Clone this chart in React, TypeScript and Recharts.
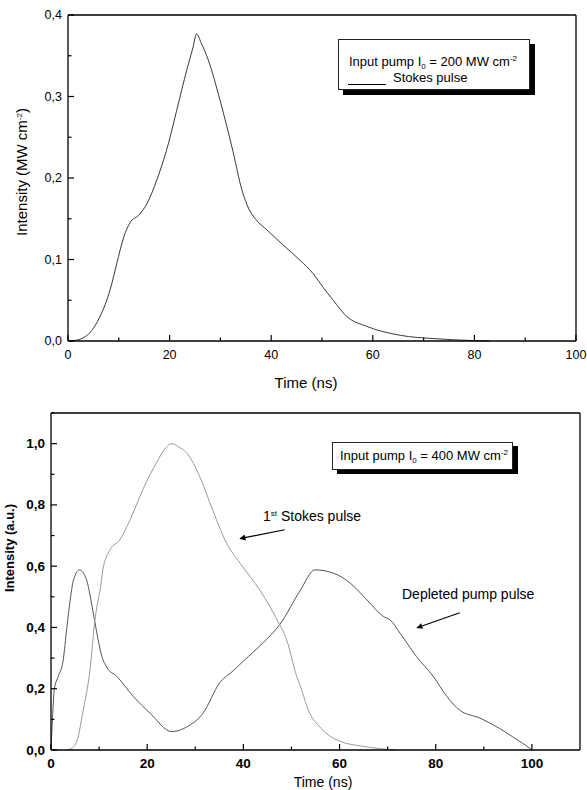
import React from 'react';
import { LineChart, Line, XAxis, YAxis, ReferenceLine } from 'recharts';

// ---------- Top chart data (Input pump 200 MW cm-2, Stokes pulse) ----------
const topTime = [0, 1.7, 3, 4.3, 6.3, 8.3, 9.6, 11, 12.2, 14, 15.5, 17.5, 19.4, 21.4, 23.4, 24.6, 25.3, 26.2, 27.6, 29.9, 32.5, 34.2, 35.6, 37, 39.2, 42.3, 45.7, 48.2, 50.2, 52.2, 54.9, 58.8, 65.4, 71.9, 80, 83];
const topStokes = [0, 0.001, 0.004, 0.01, 0.03, 0.063, 0.095, 0.128, 0.145, 0.155, 0.168, 0.198, 0.234, 0.283, 0.333, 0.36, 0.377, 0.366, 0.345, 0.296, 0.232, 0.186, 0.162, 0.149, 0.136, 0.118, 0.099, 0.083, 0.066, 0.05, 0.03, 0.018, 0.007, 0.003, 0.0005, 0];

// ---------- Bottom chart data (Input pump 400 MW cm-2) ----------
const stokesTime = [3.3, 4.5, 5.4, 6.7, 8.1, 9.1, 9.8, 10.2, 10.8, 12.3, 14.3, 16.4, 19.1, 22, 23.8, 25.1, 26.5, 28.2, 31, 33.7, 36.5, 39.3, 43.5, 47, 49, 51.1, 51.8, 53.8, 55.9, 59.4, 65.7, 70, 72];
const stokesValue = [0, 0.008, 0.03, 0.13, 0.26, 0.42, 0.49, 0.52, 0.59, 0.654, 0.686, 0.75, 0.85, 0.94, 0.985, 1.0, 0.99, 0.97, 0.89, 0.78, 0.675, 0.61, 0.52, 0.425, 0.36, 0.24, 0.21, 0.12, 0.075, 0.033, 0.01, 0.002, 0];

const pumpTime = [0, 0.3, 0.7, 1.5, 2.5, 3.3, 4, 4.6, 5.9, 7.4, 8.3, 9.1, 9.8, 10.5, 11.6, 13.7, 17.1, 20.6, 25.1, 28.2, 31.6, 35.1, 38, 40, 44.1, 47.6, 51.8, 54.9, 58.6, 62.2, 65.7, 69.1, 70.5, 72.6, 76, 79.5, 82.3, 85, 89.2, 93.3, 96, 99.6, 100];
const pumpValue = [0, 0.1, 0.2, 0.24, 0.29, 0.4, 0.49, 0.55, 0.588, 0.555, 0.49, 0.42, 0.36, 0.31, 0.27, 0.24, 0.175, 0.12, 0.06, 0.075, 0.12, 0.22, 0.26, 0.29, 0.35, 0.41, 0.52, 0.588, 0.578, 0.545, 0.49, 0.436, 0.425, 0.381, 0.305, 0.24, 0.175, 0.13, 0.104, 0.07, 0.043, 0.005, 0];

// ---------- Ticks ----------
const topXTicks = [0, 10, 20, 30, 40, 50, 60, 70, 80, 90, 100];
const topYTicks = [0, 0.05, 0.1, 0.15, 0.2, 0.25, 0.3, 0.35, 0.4];
const botXTicks = [0, 10, 20, 30, 40, 50, 60, 70, 80, 90, 100];
const botYTicks = [0, 0.1, 0.2, 0.3, 0.4, 0.5, 0.6, 0.7, 0.8, 0.9, 1.0, 1.1];

// ---------- Annotation arrows (data coordinates) ----------
const stokesArrow = [{ x: 48.6, y: 0.719 }, { x: 39.3, y: 0.69 }];
const pumpArrow = [{ x: 85.0, y: 0.448 }, { x: 76.1, y: 0.399 }];

const topData = topTime.map((t, i) => ({ t, v: topStokes[i] }));
const stokesData = stokesTime.map((t, i) => ({ t, v: stokesValue[i] }));
const pumpData = pumpTime.map((t, i) => ({ t, v: pumpValue[i] }));

const FONT = '"Liberation Sans", Arial, Helvetica, sans-serif';

type Side = 'bottom' | 'left' | 'top' | 'right';

function makeTick(
  side: Side,
  majorEvery: number,
  labelEvery: number | null,
  fmt: (v: number) => string,
  fontSize: number,
  fontWeight: string,
  gap: number,
) {
  return (props: any) => {
    const { x, y, payload } = props;
    const v = Number(payload.value);
    const isOn = (step: number) => Math.abs(v / step - Math.round(v / step)) < 1e-6;
    const major = isOn(majorEvery);
    const L = major ? 6 : 3.5;
    let line: any;
    let label: any = null;
    const showLabel = labelEvery !== null && isOn(labelEvery);
    if (side === 'bottom') {
      line = <line x1={x} y1={y} x2={x} y2={y - L} stroke="#000" strokeWidth={1.2} />;
      if (showLabel)
        label = (
          <text x={x} y={y + gap} textAnchor="middle" dominantBaseline="central" fontSize={fontSize} fontWeight={fontWeight} fontFamily={FONT} fill="#000">
            {fmt(v)}
          </text>
        );
    } else if (side === 'left') {
      line = <line x1={x} y1={y} x2={x + L} y2={y} stroke="#000" strokeWidth={1.2} />;
      if (showLabel)
        label = (
          <text x={x - gap} y={y} textAnchor="end" dominantBaseline="central" fontSize={fontSize} fontWeight={fontWeight} fontFamily={FONT} fill="#000">
            {fmt(v)}
          </text>
        );
    } else if (side === 'top') {
      line = <line x1={x} y1={y} x2={x} y2={y + L} stroke="#000" strokeWidth={1.2} />;
    } else {
      line = <line x1={x} y1={y} x2={x - L} y2={y} stroke="#000" strokeWidth={1.2} />;
    }
    return (
      <g>
        {line}
        {label}
      </g>
    );
  };
}

const fmtInt = (v: number) => String(Math.round(v));
const fmtDec = (v: number) => v.toFixed(1).replace('.', ',');

const axisLine = { stroke: '#000', strokeWidth: 1.3 };

const abs = (left: number, top: number, extra: React.CSSProperties = {}): React.CSSProperties => ({
  position: 'absolute',
  left,
  top,
  whiteSpace: 'nowrap',
  ...extra,
});

const Sub = ({ children }: { children: React.ReactNode }) => (
  <span style={{ fontSize: 8, position: 'relative', top: 3 }}>{children}</span>
);
const Sup = ({ children }: { children: React.ReactNode }) => (
  <span style={{ fontSize: 8, position: 'relative', top: -5 }}>{children}</span>
);

export default function App() {
  return (
    <div style={{ position: 'absolute', left: 0, top: 0, width: 587, height: 790, background: '#fff', fontFamily: FONT, color: '#000' }}>
      <svg width={0} height={0} style={{ position: 'absolute' }}>
        <defs>
          <marker id="arrowHead" viewBox="0 0 10 10" refX="9" refY="5" markerWidth="9" markerHeight="6" orient="auto" markerUnits="userSpaceOnUse">
            <path d="M0,0 L10,5 L0,10 z" fill="#000" />
          </marker>
        </defs>
      </svg>

      {/* ---------------- Top chart ---------------- */}
      <div style={{ position: 'absolute', left: 0, top: 0 }}>
        <LineChart width={587} height={400} margin={{ top: 15, right: 11, bottom: 0, left: 0 }}>
          <XAxis
            dataKey="t"
            type="number"
            domain={[0, 100]}
            ticks={topXTicks}
            interval={0}
            height={59}
            tickLine={false}
            tickSize={0}
            tickMargin={0}
            axisLine={axisLine}
            tick={makeTick('bottom', 20, 20, fmtInt, 12.5, 'normal', 14)}
          />
          <XAxis
            xAxisId="top"
            orientation="top"
            mirror
            type="number"
            domain={[0, 100]}
            ticks={topXTicks}
            interval={0}
            tickLine={false}
            tickSize={0}
            tickMargin={0}
            axisLine={axisLine}
            tick={makeTick('top', 20, null, fmtInt, 12, 'normal', 0)}
          />
          <YAxis
            type="number"
            domain={[0, 0.4]}
            ticks={topYTicks}
            interval={0}
            width={68}
            tickLine={false}
            tickSize={0}
            tickMargin={0}
            axisLine={axisLine}
            tick={makeTick('left', 0.1, 0.1, fmtDec, 12.5, 'normal', 6)}
          />
          <YAxis
            yAxisId="right"
            orientation="right"
            mirror
            type="number"
            domain={[0, 0.4]}
            ticks={topYTicks}
            interval={0}
            tickLine={false}
            tickSize={0}
            tickMargin={0}
            axisLine={axisLine}
            tick={makeTick('right', 0.1, null, fmtDec, 12, 'normal', 0)}
          />
          <Line data={topData} dataKey="v" type="monotone" stroke="#222" strokeWidth={0.9} dot={false} isAnimationActive={false} />
        </LineChart>
      </div>

      {/* top titles */}
      <div style={abs(21, 172, { transform: 'translate(-50%,-50%) rotate(-90deg)', fontSize: 15 })}>
        Intensity (MW cm<Sup>-2</Sup>)
      </div>
      <div style={abs(306, 382, { transform: 'translate(-50%,-50%)', fontSize: 15 })}>Time (ns)</div>

      {/* top legend */}
      <div
        style={abs(338, 39, {
          width: 192,
          height: 51,
          border: '1px solid #222',
          boxSizing: 'border-box',
          background: '#fff',
          boxShadow: '5px 5px 0 #000',
        })}
      >
        <div style={abs(10, 14, { fontSize: 13, lineHeight: '16px' })}>
          Input pump I<Sub>0</Sub> = 200 MW cm<Sup>-2</Sup>
        </div>
        <div style={abs(9, 44, { width: 38, borderTop: '1px solid #000' })} />
        <div style={abs(54, 30, { fontSize: 13, lineHeight: '16px' })}>Stokes pulse</div>
      </div>

      {/* ---------------- Bottom chart ---------------- */}
      <div style={{ position: 'absolute', left: 0, top: 400 }}>
        <LineChart width={587} height={390} margin={{ top: 13, right: 7, bottom: 0, left: 0 }}>
          <XAxis
            dataKey="t"
            type="number"
            domain={[0, 110]}
            ticks={botXTicks}
            interval={0}
            height={40}
            tickLine={false}
            tickSize={0}
            tickMargin={0}
            axisLine={axisLine}
            tick={makeTick('bottom', 20, 20, fmtInt, 13.5, 'bold', 13)}
          />
          <XAxis
            xAxisId="top"
            orientation="top"
            mirror
            type="number"
            domain={[0, 110]}
            ticks={botXTicks}
            interval={0}
            tickLine={false}
            tickSize={0}
            tickMargin={0}
            axisLine={axisLine}
            tick={makeTick('top', 20, null, fmtInt, 12, 'normal', 0)}
          />
          <YAxis
            type="number"
            domain={[0, 1.1]}
            ticks={botYTicks}
            interval={0}
            width={51}
            tickLine={false}
            tickSize={0}
            tickMargin={0}
            axisLine={axisLine}
            tick={makeTick('left', 0.2, 0.2, fmtDec, 13.5, 'bold', 6)}
          />
          <YAxis
            yAxisId="right"
            orientation="right"
            mirror
            type="number"
            domain={[0, 1.1]}
            ticks={botYTicks}
            interval={0}
            tickLine={false}
            tickSize={0}
            tickMargin={0}
            axisLine={axisLine}
            tick={makeTick('right', 0.2, null, fmtDec, 12, 'normal', 0)}
          />
          <Line data={pumpData} dataKey="v" type="monotone" stroke="#555" strokeWidth={1} dot={false} isAnimationActive={false} />
          <Line data={stokesData} dataKey="v" type="monotone" stroke="#9a9a9a" strokeWidth={1} dot={false} isAnimationActive={false} />
          <ReferenceLine segment={stokesArrow} stroke="#000" strokeWidth={1.2} markerEnd="url(#arrowHead)" />
          <ReferenceLine segment={pumpArrow} stroke="#000" strokeWidth={1.2} markerEnd="url(#arrowHead)" />
        </LineChart>
      </div>

      {/* bottom titles */}
      <div style={abs(9, 548, { transform: 'translate(-50%,-50%) rotate(-90deg)', fontSize: 13, fontWeight: 'bold' })}>
        Intensity (a.u.)
      </div>
      <div style={abs(323, 782, { transform: 'translate(-50%,-50%)', fontSize: 14 })}>Time (ns)</div>

      {/* bottom legend */}
      <div
        style={abs(332, 442, {
          width: 181,
          height: 28,
          border: '1px solid #222',
          boxSizing: 'border-box',
          background: '#fff',
          boxShadow: '5px 4px 0 #000',
        })}
      >
        <div style={abs(7, 5, { fontSize: 13, lineHeight: '16px' })}>
          Input pump I<Sub>0</Sub> = 400 MW cm<Sup>-2</Sup>
        </div>
      </div>

      {/* annotations */}
      <div style={abs(263, 508, { fontSize: 14, lineHeight: '16px' })}>
        1<Sup>st</Sup> Stokes pulse
      </div>
      <div style={abs(402, 586, { fontSize: 14, lineHeight: '16px' })}>Depleted pump pulse</div>
    </div>
  );
}
